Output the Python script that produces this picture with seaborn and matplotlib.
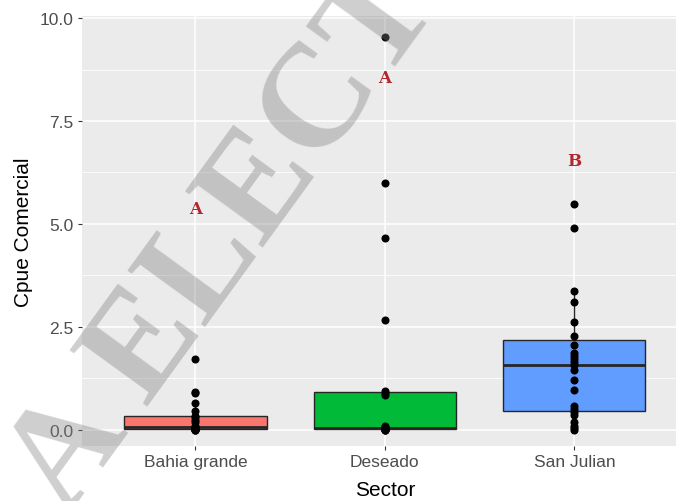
import numpy as np
import pandas as pd
import matplotlib
matplotlib.use("Agg")
import matplotlib.pyplot as plt
import seaborn as sns

# CPUE comercial por sector
sectors = ["Bahia grande", "Deseado", "San Julian"]
bahia_grande = [0.0, 0.0, 0.0, 0.01, 0.01, 0.02, 0.02, 0.03, 0.04, 0.05, 0.06,
                0.07, 0.10, 0.18, 0.24, 0.30, 0.33, 0.45, 0.65, 0.89, 0.92, 1.72]
deseado = [0.0, 0.0, 0.0, 0.01, 0.02, 0.02, 0.03, 0.03, 0.04, 0.04, 0.07,
           0.10, 0.85, 0.88, 0.93, 2.66, 4.66, 6.00, 9.55]
san_julian = [0.0, 0.05, 0.10, 0.19, 0.36, 0.42, 0.50, 0.58, 0.97, 1.21, 1.46,
              1.57, 1.64, 1.72, 1.80, 1.86, 2.06, 2.28, 2.62, 3.09, 3.38, 4.89, 5.48]
letters = ["A", "A", "B"]
letter_y = [5.37, 8.56, 6.53]
box_colors = ["#F8766D", "#00BA38", "#619CFF"]

df = pd.DataFrame({
    "Sector": ([sectors[0]] * len(bahia_grande) + [sectors[1]] * len(deseado)
               + [sectors[2]] * len(san_julian)),
    "Cpue": bahia_grande + deseado + san_julian,
})

W, H = 676, 502
fig = plt.figure(figsize=(W / 100, H / 100), dpi=100)
fig.patch.set_facecolor("white")

left, right, bottom, top = 81.8, 688.0, 446.7, 17.0
ax = fig.add_axes([left / W, 1 - bottom / H, (right - left) / W, (bottom - top) / H])
ax.set_facecolor("#EBEBEB")

sns.boxplot(data=df, x="Sector", y="Cpue", hue="Sector", palette=box_colors,
            order=sectors, hue_order=sectors, width=0.75, saturation=1,
            showfliers=False, showcaps=False, linewidth=1.0,
            linecolor="#262626", legend=False,
            medianprops={"linewidth": 2.0}, ax=ax, zorder=3)
sns.stripplot(data=df, x="Sector", y="Cpue", order=sectors, jitter=False,
              color="black", size=5.8, ax=ax, zorder=4)

for i, (lab, yv) in enumerate(zip(letters, letter_y)):
    ax.text(i, yv, lab, ha="center", va="center", color="#B5252C",
            fontsize=12, fontweight="bold", family="DejaVu Serif", zorder=5)

ax.set_xlim(-0.6, 2.6)
ax.set_ylim(-0.39, 10.05)
ax.set_yticks([0, 2.5, 5.0, 7.5, 10.0])
ax.set_yticklabels(["0.0", "2.5", "5.0", "7.5", "10.0"])
ax.set_yticks([1.25, 3.75, 6.25, 8.75], minor=True)
ax.grid(which="major", color="white", linewidth=1.1, zorder=0)
ax.grid(which="minor", axis="y", color="white", linewidth=0.55, zorder=0)
ax.set_axisbelow(True)
for s in ax.spines.values():
    s.set_visible(False)
ax.tick_params(axis="both", which="major", length=3, width=0.8, color="#333333",
               labelcolor="#4D4D4D", labelsize=12.5, pad=3)
ax.tick_params(axis="both", which="minor", length=0)
for t in ax.get_xticklabels() + ax.get_yticklabels():
    t.set_family("Liberation Sans")

ax.set_xlabel("")
ax.set_ylabel("")
fig.text(24 / W, 1 - 232 / H, "Cpue Comercial", rotation=90, ha="center",
         va="center", fontsize=15, family="Liberation Sans", color="black")
fig.text(385 / W, 1 - 491 / H, "Sector", ha="center", va="center",
         fontsize=15, family="Liberation Sans", color="black")

# repository watermark across the figure
fig.text(225 / W, 1 - 240 / H, "A ELECT", rotation=54, ha="center",
         va="center", fontsize=106, fontweight="bold", family="Liberation Serif",
         color="#808080", alpha=0.38, zorder=10)

fig.savefig("out.png", dpi=100, facecolor="white")
